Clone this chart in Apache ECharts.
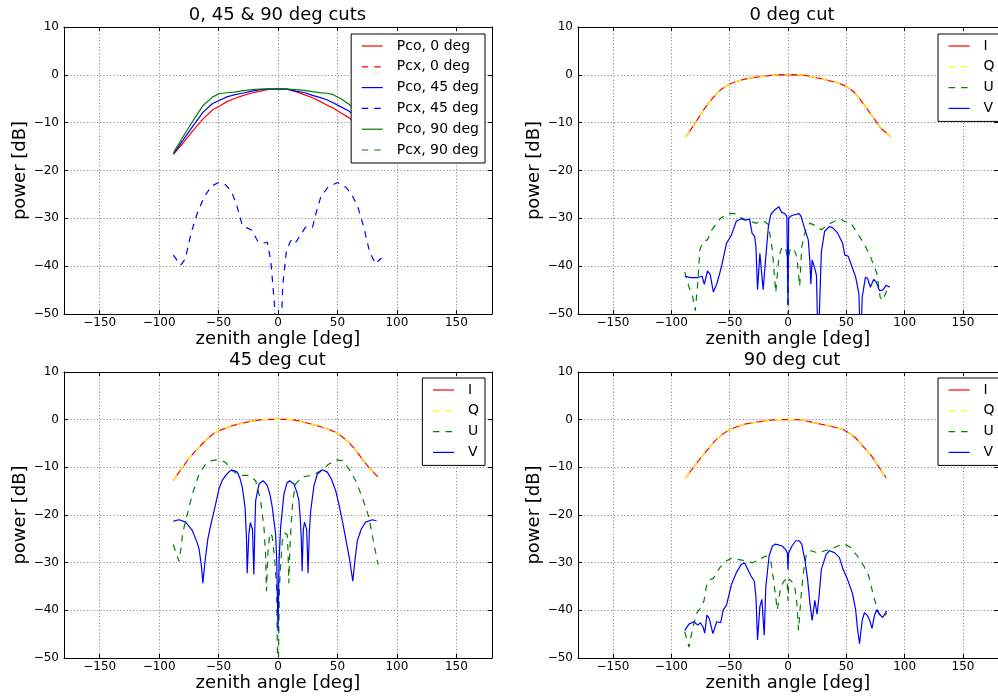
<!DOCTYPE html>
<html><head><meta charset="utf-8">
<script src="https://cdn.jsdelivr.net/npm/echarts@6/dist/echarts.min.js"></script>
<style>html,body{margin:0;padding:0;background:#fff}#c{width:998px;height:696px}</style>
</head><body><div id="c"></div>
<script>
// ---------- DATA ----------
// Panel 1: 0, 45 & 90 deg cuts
const angCuts = [-88,-80,-71,-63,-55,-49,-43,-37,-29,-22,-15,-8,0,8,15,22,29,35,41,46,53,60,67,74,81,88];
const pco0  = [-16.6,-14.3,-11.5,-9.2,-7.3,-6.5,-5.6,-5.0,-4.3,-3.8,-3.4,-3.05,-2.95,-3.05,-3.5,-4.15,-4.8,-5.5,-6.3,-6.9,-8.0,-9.0,-10.8,-12.6,-14.5,-16.6];
const pco45 = [-16.5,-13.7,-10.5,-7.8,-6.0,-5.3,-4.6,-4.2,-3.8,-3.4,-3.1,-3.0,-2.95,-3.0,-3.4,-3.7,-4.3,-4.7,-5.2,-5.8,-6.7,-7.6,-9.2,-11.2,-13.6,-16.5];
const pco90 = [-16.3,-13.0,-9.4,-6.4,-4.6,-3.9,-3.75,-3.6,-3.3,-3.1,-3.0,-2.95,-2.95,-3.0,-3.1,-3.25,-3.5,-3.7,-3.85,-4.1,-5.0,-6.2,-8.3,-10.8,-13.3,-16.3];
const angPcx45 = [-88,-82,-78,-73,-68,-62,-56,-50,-44,-39,-35,-30,-26,-22,-17,-13,-9,-6,-3,-1,2,4,7,10,12,15,19,23,29,33,36,42,50,57,62,67,72,77,82,87];
const pcx45    = [-37.7,-39.8,-38.5,-33,-29,-25.5,-23.3,-22.5,-23,-24.5,-27,-31.5,-32,-32.5,-34.8,-35.2,-35,-39,-48,-58,-58,-44,-37,-35,-34.3,-35,-33.5,-31.9,-31.9,-28,-25.5,-23.5,-22.5,-23.5,-25,-27.5,-31.7,-37,-39.5,-38.3];
const pcx0 = [];   // not visible in the reference
const pcx90 = [];  // not visible in the reference

// Panel 2: 0 deg cut
const angI0 = [-87.6,-82,-77,-72,-66,-61,-57,-52,-48,-43,-38,-30,-21,-14,-8,0,8,16,23,30,35,42,48,53,57,62,68,74,79,87.7];
const valI0 = [-12.9,-11,-9.1,-7.2,-5.3,-3.9,-3.0,-2.2,-1.7,-1.3,-0.95,-0.6,-0.3,-0.1,0.05,0,0.05,-0.15,-0.55,-0.9,-1.2,-1.6,-2.2,-2.9,-3.7,-5.2,-7.2,-9.2,-11,-12.9];
const valQ0 = valI0; // Q overlays I in the picture
const angU0 = [-88.5,-85,-82,-79.5,-77.5,-75.5,-72.3,-69,-65.3,-58.3,-51.3,-45.7,-40,-36,-27.5,-20.4,-16.8,-13.4,-10.5,-7.8,-5,-2.2,-0.5,0,0.5,2,4.8,7.6,10,11.8,15.1,18.8,23,28.6,34.2,39.8,44,48.2,53.8,59.4,65,70.6,76.2,79,81.2,84.6,88];
const valU0 = [-41.2,-44.3,-46,-49.3,-44,-36.5,-34.8,-34.5,-32.4,-30.1,-29,-29,-29.9,-30.3,-31,-30.6,-31.3,-36.6,-45.5,-38,-35.9,-36.3,-38,-58,-38,-36.3,-36.3,-38,-44.2,-35.9,-32.4,-31,-31.5,-32.4,-31.3,-30.6,-30.1,-30.6,-31,-33.1,-35.2,-38,-41.5,-46.5,-47.2,-45.1,-45.1];
const angV0 = [-88.5,-83.5,-78,-73.7,-71.7,-69,-66.7,-64,-61,-57,-52.7,-48.5,-44.3,-40,-36,-33,-30.8,-28.6,-27.5,-26.1,-24.1,-22.7,-21.3,-19,-16.8,-14.8,-11.2,-7.8,-5.6,-2.8,-1,0,0.6,3.4,9.5,11.2,14.6,17.4,18.8,19.6,20.7,23,24.4,25.8,27.5,28.6,31.4,35.6,38.4,42.6,46.8,48.7,51.5,53.8,58,60.8,62.2,63.6,66.4,68.3,70.6,73.4,75.6,78.4,81.2,84,87.4];
const valV0 = [-42.1,-42.4,-42.4,-42.1,-43.8,-41,-41.7,-45.4,-43.7,-40.1,-35.2,-33.5,-30.6,-30.1,-30.4,-30.1,-33.1,-33.8,-35.9,-44.9,-37.3,-37.7,-44.9,-38,-31.7,-29.2,-28.2,-27.6,-28.7,-29,-29.6,-48,-29.9,-29.4,-29,-29.6,-32.4,-34.5,-39.1,-43.7,-38.7,-40.5,-41.9,-58,-58,-37,-32.7,-31.7,-32,-33.1,-35.2,-37.7,-37.9,-39.4,-42.3,-45.8,-58,-46.5,-42.3,-42.6,-44.4,-42.8,-43.3,-45.1,-45,-44,-44.4];

// Panel 3: 45 deg cut
const angI45 = [-88.1,-80.4,-75,-69.2,-63,-58,-54,-49.6,-44,-38.4,-31,-24.4,-18,-13.2,-6,0,6,12,19,26,32,37.3,43,49.9,55,59.7,65,70.9,77,84];
const valI45 = [-12.8,-10,-8.2,-6.5,-4.9,-3.7,-2.9,-2.3,-1.8,-1.26,-0.8,-0.4,-0.15,0,0.05,0.07,0.05,0,-0.35,-0.8,-1.2,-1.6,-2.1,-2.8,-3.8,-4.8,-6.3,-8.3,-10.2,-12];
const valQ45 = valI45;
const angU45 = [-88.1,-85.5,-83.3,-81,-80.4,-77.6,-72,-66.4,-60.8,-56,-51,-47,-44,-38.4,-32.8,-24.4,-18.8,-14.6,-11.8,-10.5,-9.7,-8.5,-6.9,-4.9,-2.9,-1.2,0,1.2,3.5,5.7,7.7,8.5,9.1,10,11.3,12.5,14.8,20.4,28.9,35.9,42.9,48.5,54.1,59.7,65.3,70.9,76.5,80.7,84.2];
const valU45 = [-26.2,-28.2,-29.7,-26,-24,-21.2,-15.6,-11.4,-9.3,-8.6,-8.4,-8.6,-9,-10.7,-11.7,-11.7,-12.8,-17,-22.6,-28,-36,-28,-23.8,-24.5,-29,-35,-58,-35,-25.5,-23.8,-24.1,-28,-34.3,-27,-21,-17,-13.5,-12,-11.7,-10.7,-9.3,-8.4,-8.6,-10.3,-12.8,-16.3,-20.5,-26.1,-30.4];
const angV45 = [-88,-83.2,-77.6,-72,-68,-66.4,-64.5,-63.2,-61.5,-59,-56,-53.9,-51.5,-49.6,-47,-44,-41,-39.2,-37,-34.2,-32,-30,-27.7,-26.5,-25.9,-24.5,-23.3,-22.5,-21.5,-20.3,-19.5,-18.8,-16,-12.6,-9,-6.5,-4.8,-2,-1,0,1,2.2,5,7.5,9.8,13.4,16,17.6,18.8,19.6,20.3,21.3,22.3,23.1,24.1,25.3,26.3,27.5,30.3,33.1,37.3,41.5,45,48.5,51,54.1,57,60,62.9,64.5,66.7,70,73.7,79.3,82.9];
const valV45 = [-21.3,-21.0,-21.5,-23.3,-25.8,-27.1,-30.5,-34.3,-30,-25,-21.5,-19.3,-16.6,-14.5,-12.8,-11.7,-10.9,-10.6,-10.7,-11,-12.3,-14.2,-18.4,-25,-32.2,-24,-21.6,-21.2,-23,-32.5,-23,-17,-13.5,-12.8,-13.8,-16,-18.4,-24,-30,-44.4,-29,-22.6,-15.6,-13.3,-12.8,-13.5,-15.3,-17,-21,-25,-31.8,-23,-21.5,-21.4,-23,-32.2,-24,-19.1,-13.8,-11.4,-10.5,-11,-12.5,-14.9,-17.5,-21.2,-25,-29,-33.9,-30,-25.4,-23,-21.5,-21,-21.2];

// Panel 4: 90 deg cut
const angI90 = [-87.6,-82,-77.3,-70,-63.3,-57,-50.7,-45,-38.1,-30,-21.3,-14,-8,0,8,12,20,28.9,35,42,48.5,53,58.3,64,71,77,84.1];
const valI90 = [-12.2,-10.3,-8.8,-6.6,-4.6,-3.2,-2.15,-1.6,-1.0,-0.65,-0.3,-0.1,0,0,0,-0.05,-0.5,-1.0,-1.3,-1.7,-2.2,-2.9,-3.9,-5.5,-7.4,-9.6,-12.2];
const valQ90 = valI90;
const angU90 = [-88.5,-84.9,-81.5,-78,-75,-72,-70,-68,-64,-62.5,-58.3,-52.7,-48.5,-42.9,-37.3,-30.3,-24.6,-19,-14.8,-12,-9.2,-6.4,-3.6,-0.8,0,0.8,2,5.6,7.6,9,11.2,13.2,16,20.2,25.8,31.4,37,42.6,48.2,53.8,59.4,65,69.2,73.4,77.6,81.8,84.6];
const valU90 = [-44.5,-47.7,-43.5,-40.5,-39.5,-38,-35,-33.7,-33.3,-33.2,-31,-29.6,-29.1,-29.3,-29.6,-30,-29.3,-28.6,-29.6,-34.3,-39.9,-35.3,-33.9,-33.4,-38,-33.4,-33.5,-34.6,-38.5,-44.2,-37.1,-32.1,-27.9,-27.5,-28,-27.5,-27.2,-26.5,-26.1,-26.8,-28.6,-30.7,-32.8,-37.1,-40.6,-41.5,-40.6];
const angV90 = [-88.5,-84.9,-80.7,-77.3,-75.1,-72.8,-71.4,-69.5,-67.5,-64.4,-61.1,-57.7,-55.5,-52.7,-48.5,-44.3,-40.1,-37.3,-34.5,-31.7,-28.9,-27.5,-26.1,-24.1,-22.4,-20.4,-19,-16.2,-13.4,-10.6,-5,-2.2,-0.5,0,0.5,3.4,6.7,9.5,11.8,14.6,16.8,18.8,20.7,23,24.9,26.6,28.6,32.8,35.6,39.8,44,46.8,51,55.2,58,59.4,61.3,63.6,65.5,67.8,70,72,74.2,76.2,79,81.2,84.6];
const valV90 = [-44.2,-42.9,-42.4,-43.1,-42.6,-43.5,-44.8,-41,-41.7,-44.9,-42.4,-42.6,-39.9,-38.9,-34.6,-32.1,-30.4,-30,-31.4,-32.8,-33.9,-37.1,-46.2,-39.2,-37.7,-45.2,-35,-28.6,-26.5,-26.1,-26.5,-27.2,-28,-31.5,-28,-26.5,-25.4,-25.4,-26.1,-29.6,-33.5,-38.5,-42.1,-37.9,-40.8,-37.1,-31.4,-28.2,-27.5,-27.9,-28.9,-31.1,-33.5,-36.4,-39.9,-43.5,-47,-42.1,-40.5,-41,-42.1,-43.8,-41,-39.9,-41,-41.5,-40.1];

// Axis / text labels
const panelTitles = ['0, 45 & 90 deg cuts', '0 deg cut', '45 deg cut', '90 deg cut'];
const xLabel = 'zenith angle [deg]';
const yLabel = 'power [dB]';
const cutsLegend = ['Pco, 0 deg', 'Pcx, 0 deg', 'Pco, 45 deg', 'Pcx, 45 deg', 'Pco, 90 deg', 'Pcx, 90 deg'];
const stokesLegend = ['I', 'Q', 'U', 'V'];

// ---------- CHART ----------
const FONT = 'DejaVu Sans';
const RED = '#ff0000', BLUE = '#0000ff', GREEN = '#008000', YELLOW = '#ffff00';
const zip = (xs, ys) => xs.map((x, i) => [x, ys[i]]);
const minus = v => String(v).replace('-', '\u2212');

const gridBoxes = [
  {left: 64,  top: 27,  width: 428, height: 287},
  {left: 578, top: 27,  width: 428, height: 287},
  {left: 64,  top: 372, width: 428, height: 286},
  {left: 578, top: 372, width: 428, height: 286}
];
const titlePos = [{x: 277.5, y: 6}, {x: 792, y: 6}, {x: 277.5, y: 351}, {x: 792, y: 351}];

const dotted = {color: '#7a7a7a', width: 1, type: [1, 2.3]};
const xAxes = [], yAxes = [];
gridBoxes.forEach((g, gi) => {
  ['bottom', 'top'].forEach(pos => {
    const main = pos === 'bottom';
    xAxes.push({
      type: 'value', gridIndex: gi, position: pos, min: -180, max: 180, splitNumber: 7,
      axisLine: {show: true, onZero: false, lineStyle: {color: '#000', width: 1}},
      axisTick: {show: true, inside: true, length: 4, lineStyle: {color: '#000', width: 1}},
      axisLabel: {show: main, showMinLabel: false, showMaxLabel: false, margin: 3,
        fontFamily: FONT, fontSize: 12, color: '#000', formatter: minus},
      splitLine: {show: main, lineStyle: dotted},
      name: main ? xLabel : '', nameLocation: 'middle', nameGap: 14,
      nameTextStyle: {fontFamily: FONT, fontSize: 18, color: '#000'}
    });
  });
  ['left', 'right'].forEach(pos => {
    const main = pos === 'left';
    yAxes.push({
      type: 'value', gridIndex: gi, position: pos, min: -50, max: 10, interval: 10,
      axisLine: {show: true, onZero: false, lineStyle: {color: '#000', width: 1}},
      axisTick: {show: true, inside: true, length: 4, lineStyle: {color: '#000', width: 1}},
      axisLabel: {show: main, margin: 5, fontFamily: FONT, fontSize: 12, color: '#000', formatter: minus},
      splitLine: {show: main, lineStyle: dotted},
      name: main ? yLabel : '', nameLocation: 'middle', nameGap: 32,
      nameTextStyle: {fontFamily: FONT, fontSize: 18, color: '#000'}
    });
  });
});

function mk(name, xs, ys, color, dashed, gi) {
  return {
    name, type: 'line', xAxisIndex: gi * 2, yAxisIndex: gi * 2,
    data: zip(xs, ys), symbol: 'none', clip: true, animation: false,
    lineStyle: {color, width: 1.2, type: dashed ? [6.5, 6] : 'solid'},
    itemStyle: {color}, emphasis: {disabled: true}
  };
}
const series = [
  mk('Pco, 0 deg', angCuts, pco0, RED, false, 0),
  mk('Pcx, 0 deg', [], pcx0, RED, true, 0),
  mk('Pco, 45 deg', angCuts, pco45, BLUE, false, 0),
  mk('Pcx, 45 deg', angPcx45, pcx45, BLUE, true, 0),
  mk('Pco, 90 deg', angCuts, pco90, GREEN, false, 0),
  mk('Pcx, 90 deg', [], pcx90, GREEN, true, 0),

  mk('I', angI0, valI0, RED, false, 1),
  mk('Q', angI0, valQ0, YELLOW, true, 1),
  mk('U', angU0, valU0, GREEN, true, 1),
  mk('V', angV0, valV0, BLUE, false, 1),

  mk('I', angI45, valI45, RED, false, 2),
  mk('Q', angI45, valQ45, YELLOW, true, 2),
  mk('U', angU45, valU45, GREEN, true, 2),
  mk('V', angV45, valV45, BLUE, false, 2),

  mk('I', angI90, valI90, RED, false, 3),
  mk('Q', angI90, valQ90, YELLOW, true, 3),
  mk('U', angU90, valU90, GREEN, true, 3),
  mk('V', angV90, valV90, BLUE, false, 3)
];

const legendCommon = {
  orient: 'vertical', align: 'left', itemWidth: 21, itemHeight: 14, itemGap: 6.8,
  padding: [5, 6, 6, 10], borderColor: '#000', borderWidth: 1, borderRadius: 0,
  backgroundColor: '#fff', selectedMode: false, z: 10,
  itemStyle: {opacity: 0}, lineStyle: {width: 1.2},
  textStyle: {fontFamily: FONT, fontSize: 14, color: '#000', lineHeight: 14, padding: [0, 0, 0, 9]}
};
const legends = [
  Object.assign({data: cutsLegend, right: 513, top: 34}, legendCommon),
  Object.assign({data: stokesLegend, left: 938, top: 34}, legendCommon),
  Object.assign({data: stokesLegend, right: 513, top: 378}, legendCommon),
  Object.assign({data: stokesLegend, left: 938, top: 378}, legendCommon)
];

const titles = panelTitles.map((t, i) => ({
  text: t, left: titlePos[i].x, top: titlePos[i].y, textAlign: 'center', padding: 0,
  textStyle: {fontFamily: FONT, fontSize: 18, fontWeight: 'normal', color: '#000'}
}));

const chart = echarts.init(document.getElementById('c'), null, {renderer: 'canvas'});
chart.setOption({
  animation: false, backgroundColor: '#fff',
  textStyle: {fontFamily: FONT},
  title: titles, legend: legends,
  grid: gridBoxes, xAxis: xAxes, yAxis: yAxes, series
});
</script></body></html>
